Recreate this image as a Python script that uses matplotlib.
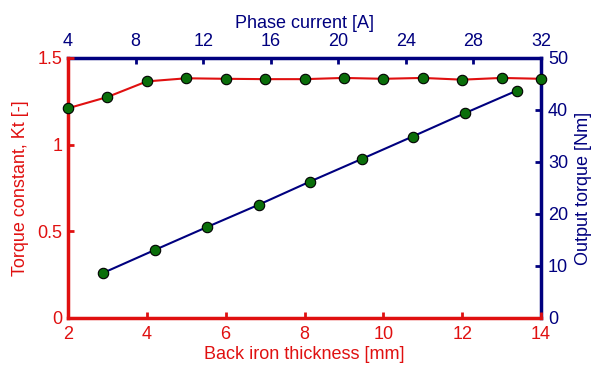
import matplotlib.pyplot as plt

plt.rcParams['font.family'] = ['Liberation Sans', 'DejaVu Sans']
plt.rcParams['font.size'] = 13

RED = '#e01010'
NAVY = '#00007f'
GREEN = '#0a6e0a'

# torque constant vs back iron thickness
thickness = [2, 3, 4, 5, 6, 7, 8, 9, 10, 11, 12, 13, 14]
kt = [1.21, 1.275, 1.365, 1.383, 1.38, 1.378, 1.378, 1.385, 1.38, 1.385, 1.375, 1.385, 1.38]

# output torque vs phase current
current = [6.1, 9.15, 12.2, 15.3, 18.3, 21.4, 24.4, 27.5, 30.55]
torque = [8.7, 13.1, 17.45, 21.8, 26.2, 30.6, 34.9, 39.4, 43.7]

fig = plt.figure(figsize=(5.93, 3.66), dpi=100)
pos = [68 / 593, 1 - 318 / 366, 473 / 593, 260 / 366]
ax2 = fig.add_axes(pos)
ax = fig.add_axes(pos)
ax.patch.set_visible(False)

# blue series on top/right axes
ax2.plot(current, torque, color=NAVY, lw=1.5, marker='o', ms=7.5,
         mfc=GREEN, mec='black', mew=0.8)
ax2.set_xlim(4, 32)
ax2.set_ylim(0, 50)
ax2.set_xticks([4, 8, 12, 16, 20, 24, 28, 32])
ax2.set_yticks([0, 10, 20, 30, 40, 50])
ax2.xaxis.tick_top()
ax2.xaxis.set_label_position('top')
ax2.yaxis.tick_right()
ax2.yaxis.set_label_position('right')
ax2.set_xlabel('Phase current [A]', color=NAVY, labelpad=3)
ax2.set_ylabel('Output torque [Nm]', color=NAVY, labelpad=5)
ax2.tick_params(colors=NAVY, direction='in', length=4, width=2)
ax2.tick_params(axis='x', pad=6)
ax2.tick_params(axis='y', pad=5)
for s in ['left', 'bottom']:
    ax2.spines[s].set_visible(False)
for s in ['top', 'right']:
    ax2.spines[s].set_color(NAVY)
    ax2.spines[s].set_linewidth(2.5)

# red series on bottom/left axes
ax.plot(thickness, kt, color=RED, lw=1.5, marker='o', ms=7.5,
        mfc=GREEN, mec='black', mew=0.8, clip_on=False, zorder=5)
ax.set_xlim(2, 14)
ax.set_ylim(0, 1.5)
ax.set_xticks([2, 4, 6, 8, 10, 12, 14])
ax.set_yticks([0, 0.5, 1, 1.5])
ax.set_yticklabels(['0', '0.5', '1', '1.5'])
ax.set_xlabel('Back iron thickness [mm]', color=RED, labelpad=2)
ax.set_ylabel('Torque constant, Kt [-]', color=RED, labelpad=6)
ax.tick_params(colors=RED, direction='in', length=4, width=2)
ax.tick_params(axis='x', pad=6)
ax.tick_params(axis='y', pad=4)
for s in ['top', 'right']:
    ax.spines[s].set_visible(False)
for s in ['left', 'bottom']:
    ax.spines[s].set_color(RED)
    ax.spines[s].set_linewidth(2.5)

fig.savefig('out.png', dpi=100)
